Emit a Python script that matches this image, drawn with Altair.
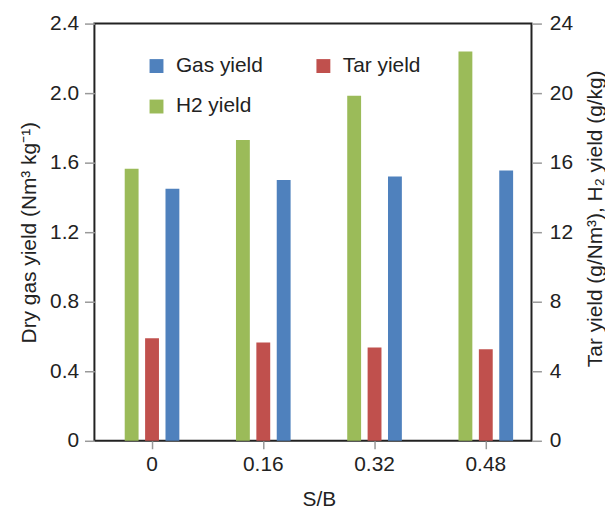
import altair as alt
import pandas as pd

categories = ["0", "0.16", "0.32", "0.48"]
gas_yield = [1.45, 1.50, 1.52, 1.555]
tar_yield = [5.9, 5.65, 5.37, 5.27]
h2_yield = [15.65, 17.3, 19.85, 22.4]

legend_order = ["Gas yield", "Tar yield", "H2 yield"]
bar_order = ["H2 yield", "Tar yield", "Gas yield"]
colors = ["#4F81BD", "#C0504D", "#9BBB59"]

left_df = pd.DataFrame({"sb": categories, "series": "Gas yield", "value": gas_yield})
right_df = pd.concat([
    pd.DataFrame({"sb": categories, "series": "Tar yield", "value": tar_yield}),
    pd.DataFrame({"sb": categories, "series": "H2 yield", "value": h2_yield}),
])

FONT = "Liberation Sans"
TXT = "#222222"
FS = 21

x = alt.X("sb:N", sort=categories,
          scale=alt.Scale(range=[2, 450], paddingInner=0, paddingOuter=0),
          axis=alt.Axis(title="S/B", labelAngle=0, domain=False, ticks=True,
                        tickColor="#999999", tickSize=8, tickWidth=1.5,
                        labelFontSize=FS, labelColor=TXT, labelPadding=5,
                        titleFontSize=FS, titleColor=TXT, titleFontWeight="normal",
                        titlePadding=14, labelFont=FONT, titleFont=FONT))
xo = alt.XOffset("series:N", sort=bar_order,
                 scale=alt.Scale(domain=bar_order, range=[28.5, 83.5],
                                 paddingInner=0.32, paddingOuter=0))
color = alt.Color("series:N",
                  scale=alt.Scale(domain=legend_order, range=colors),
                  legend=alt.Legend(title=None, orient="none", legendX=52, legendY=32,
                                    direction="horizontal", columns=2, columnPadding=50,
                                    rowPadding=19, symbolType="square", symbolSize=196,
                                    symbolStrokeWidth=0, labelFontSize=FS, labelColor=TXT,
                                    labelFont=FONT, labelOffset=9, padding=0))

left = alt.Chart(left_df).mark_bar().encode(
    x=x, xOffset=xo, color=color,
    y=alt.Y("value:Q", scale=alt.Scale(domain=[0, 2.4], nice=False, zero=True),
            axis=alt.Axis(orient="left", values=[0, 0.4, 0.8, 1.2, 1.6, 2.0, 2.4],
                          labelExpr="datum.value == 0 ? '0' : format(datum.value, '.1f')",
                          title="Dry gas yield (Nm³ kg⁻¹)", grid=False, domain=False,
                          tickColor="#999999", tickSize=10, tickWidth=1.5,
                          labelFontSize=FS, labelColor=TXT, labelPadding=6, labelFont=FONT,
                          titleFontSize=FS, titleColor=TXT, titleFontWeight="normal",
                          titleFont=FONT, titlePadding=10))
)

right = alt.Chart(right_df).mark_bar().encode(
    x=x, xOffset=xo, color=color,
    y=alt.Y("value:Q", scale=alt.Scale(domain=[0, 24], nice=False, zero=True),
            axis=alt.Axis(orient="right", values=[0, 4, 8, 12, 16, 20, 24],
                          title="Tar yield (g/Nm³), H₂ yield (g/kg)", grid=False, domain=False,
                          tickColor="#999999", tickSize=10, tickWidth=1.5,
                          labelFontSize=FS, labelColor=TXT, labelPadding=8, labelFont=FONT,
                          titleFontSize=FS, titleColor=TXT, titleFontWeight="normal",
                          titleFont=FONT, titleAngle=270, titleX=64, titleY=196,
                          titleAlign="center", titleBaseline="middle"))
)

chart = alt.layer(left, right).resolve_scale(y="independent").properties(
    width=440, height=420, padding={"top": 3, "left": 10, "right": 0, "bottom": 2}
).configure_view(stroke="#222222", strokeWidth=2)

chart.save("out.html", embed_options={"renderer": "svg", "actions": False})
